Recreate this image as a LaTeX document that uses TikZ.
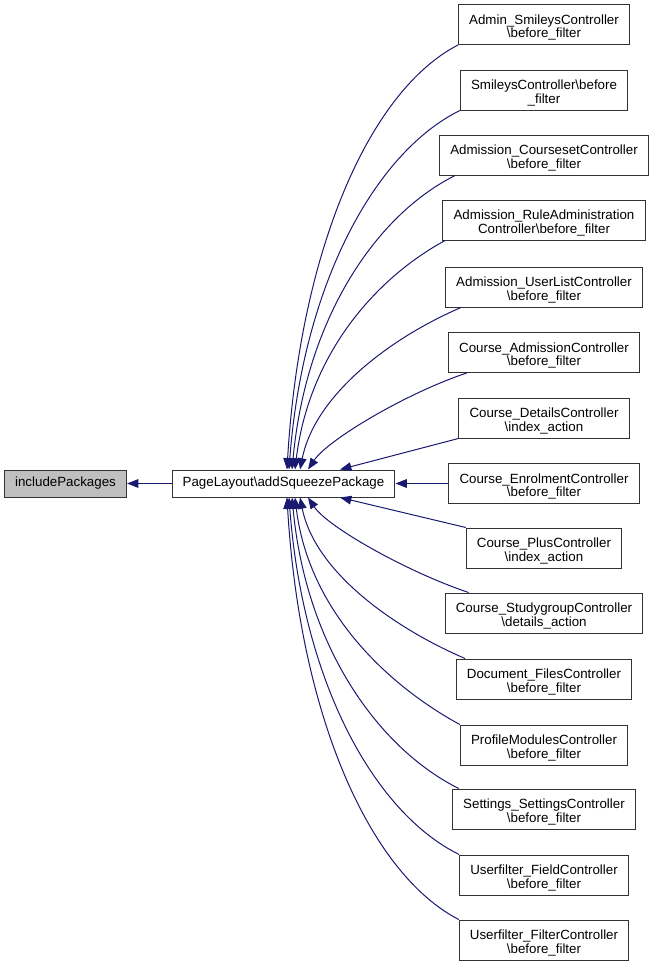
\documentclass[tikz,border=0pt]{standalone}
\usepackage{fontspec}
\setmainfont{Liberation Sans}
\usepackage{xcolor}
\usetikzlibrary{arrows.meta}
\definecolor{edgeblue}{HTML}{191970}
\definecolor{markgray}{HTML}{BFBFBF}
\newcommand{\tallstrut}{\rule{0pt}{11.7pt}}
\tikzset{
	fn node/.style={rectangle,draw=black!80,line width=0.75pt,align=center,
		font=\fontsize{10pt}{10pt}\selectfont,inner xsep=8pt,inner ysep=0pt},
	one line/.style={fn node,minimum height=20.25pt},
	two line/.style={fn node,minimum height=30pt},
	call/.style={draw=edgeblue,line width=0.75pt}
}

\begin{document}
\begin{tikzpicture}[x=0.75pt,y=-0.75pt,->,>={Triangle[length=8.5pt,width=6.5pt]}]
	\useasboundingbox (0,0) rectangle (653,967);
	% callers and callee
	\node [one line,fill=markgray] (inc) at (65.5,483.5) {includePackages};
	\node [one line] (pl) at (283.5,483.5) {PageLayout\textbackslash addSqueezePackage};
	% right column
	\node [two line] (b1) at (544,24.5) {\tallstrut Admin\_SmileysController\\\textbackslash before\_filter};
	\node [two line] (b2) at (544,90) {\tallstrut SmileysController\textbackslash before\\\_filter};
	\node [two line] (b3) at (544,155) {\tallstrut Admission\_CoursesetController\\\textbackslash before\_filter};
	\node [two line] (b4) at (544,220) {\tallstrut Admission\_RuleAdministration\\Controller\textbackslash before\_filter};
	\node [two line] (b5) at (544,287) {\tallstrut Admission\_UserListController\\\textbackslash before\_filter};
	\node [two line] (b6) at (544,352.5) {\tallstrut Course\_AdmissionController\\\textbackslash before\_filter};
	\node [two line] (b7) at (544,418) {\tallstrut Course\_DetailsController\\\textbackslash index\_action};
	\node [two line] (b8) at (544,483.5) {\tallstrut Course\_EnrolmentController\\\textbackslash before\_filter};
	\node [two line] (b9) at (544,548) {\tallstrut Course\_PlusController\\\textbackslash index\_action};
	\node [two line] (b10) at (544,613) {\tallstrut Course\_StudygroupController\\\textbackslash details\_action};
	\node [two line] (b11) at (544,679) {\tallstrut Document\_FilesController\\\textbackslash before\_filter};
	\node [two line] (b12) at (544,745) {\tallstrut ProfileModulesController\\\textbackslash before\_filter};
	\node [two line] (b13) at (544,809) {\tallstrut Settings\_SettingsController\\\textbackslash before\_filter};
	\node [two line] (b14) at (544,875) {\tallstrut Userfilter\_FieldController\\\textbackslash before\_filter};
	\node [two line] (b15) at (544,940) {\tallstrut Userfilter\_FilterController\\\textbackslash before\_filter};
	% edges
	\draw [call] (pl) -- (inc);
	\draw [call] (b1.south west) .. controls +(-89,46) and +(13,-219) .. ([xshift=2.6pt]pl.north);
	\draw [call] (b2.south west) .. controls +(-85,42) and +(14,-185) .. ([xshift=4.1pt]pl.north);
	\draw [call] ([xshift=12pt]b3.south west) .. controls +(-80,40) and +(14,-150) .. ([xshift=6.4pt]pl.north);
	\draw [call] ([xshift=2pt]b4.south west) .. controls +(-70,38) and +(14,-115) .. ([xshift=8.6pt]pl.north);
	\draw [call] ([xshift=12pt]b5.south west) .. controls +(-70,30) and +(15,-75) .. ([xshift=12.4pt]pl.north);
	\draw [call] ([xshift=14pt]b6.south west) .. controls +(-60,20) and +(20,-30) .. ([xshift=18.4pt]pl.north);
	\draw [call] (b7.south west) -- ([xshift=42.4pt]pl.north);
	\draw [call] (b8) -- (pl);
	\draw [call] (b9.north west) -- ([xshift=42.4pt]pl.south);
	\draw [call] ([xshift=18pt]b10.north west) .. controls +(-60,-20) and +(20,30) .. ([xshift=18.4pt]pl.south);
	\draw [call] ([xshift=7pt]b11.north west) .. controls +(-70,-30) and +(15,75) .. ([xshift=12.4pt]pl.south);
	\draw [call] (b12.north west) .. controls +(-70,-38) and +(14,115) .. ([xshift=8.6pt]pl.south);
	\draw [call] ([xshift=5pt]b13.north west) .. controls +(-80,-40) and +(14,150) .. ([xshift=6.4pt]pl.south);
	\draw [call] (b14.north west) .. controls +(-85,-42) and +(14,185) .. ([xshift=4.1pt]pl.south);
	\draw [call] (b15.north west) .. controls +(-89,-46) and +(13,219) .. ([xshift=2.6pt]pl.south);
\end{tikzpicture}
\end{document}
